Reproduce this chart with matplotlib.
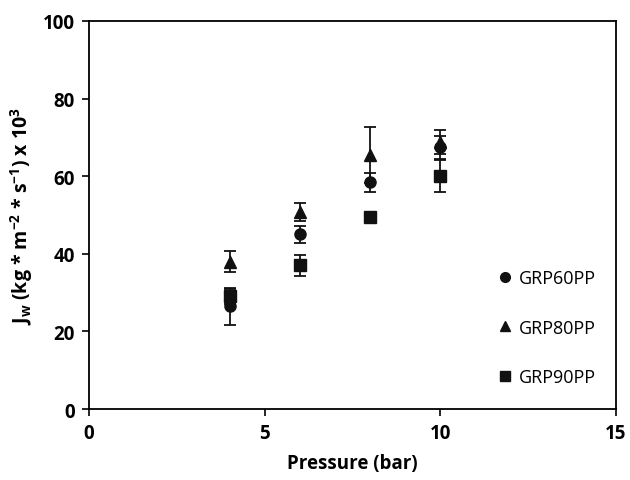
import numpy as np
import matplotlib
matplotlib.use('Agg')
import matplotlib.pyplot as plt
from matplotlib.lines import Line2D

plt.rcParams['font.family'] = ['Open Sans', 'DejaVu Sans']
plt.rcParams['mathtext.fontset'] = 'custom'
plt.rcParams['mathtext.rm'] = 'Open Sans:bold'
plt.rcParams['mathtext.it'] = 'Open Sans:bold'
plt.rcParams['mathtext.default'] = 'rm'

# 数据
pressure = [4, 6, 8, 10]
grp60 = [26.5, 45.0, 58.4, 67.4]
grp60_err = [4.8, 2.2, 2.4, 3.0]
grp80 = [38.0, 50.8, 65.5, 68.8]
grp80_err = [2.6, 2.4, 7.2, 3.0]
grp90 = [29.0, 37.0, 49.4, 60.0]
grp90_err = [2.0, 2.7, 0.0, 4.2]

series = [
    ('GRP60PP', grp60, grp60_err, 'o'),
    ('GRP80PP', grp80, grp80_err, '^'),
    ('GRP90PP', grp90, grp90_err, 's'),
]

fig = plt.figure(figsize=(6.3, 4.81), dpi=100)
ax = fig.add_axes([89 / 630, 1 - 410 / 481, (616 - 89) / 630, (410 - 22) / 481])

handles = []
for name, y, err, m in series:
    ax.errorbar(pressure, y, yerr=err, fmt=m, color='#111111', ms=8,
                capsize=4.5, elinewidth=1.3, capthick=1.3)
    handles.append(Line2D([], [], marker=m, ls='none', color='#111111',
                          ms=7, label=name))

ax.set_xlim(0, 15)
ax.set_ylim(0, 100)
ax.set_xticks([0, 5, 10, 15])
ax.set_yticks([0, 20, 40, 60, 80, 100])
ax.tick_params(direction='out', length=5, width=1.2, labelsize=13.5, pad=5)
for lab in ax.get_xticklabels() + ax.get_yticklabels():
    lab.set_fontweight('bold')
for s in ax.spines.values():
    s.set_linewidth(1.3)

ax.set_xlabel('Pressure (bar)', fontsize=13.5, fontweight='bold', labelpad=7)
ax.set_ylabel(r'J$_{w}$ (kg * m$^{-2}$ * s$^{-1}$) x 10$^{3}$',
              fontsize=14, fontweight='bold', labelpad=6)

ax.legend(handles=handles, loc='center left', bbox_to_anchor=(0.75, 0.21),
          frameon=False, handlelength=0.5, handletextpad=0.5,
          labelspacing=1.75, fontsize=13)

fig.savefig('out.png', dpi=100)
